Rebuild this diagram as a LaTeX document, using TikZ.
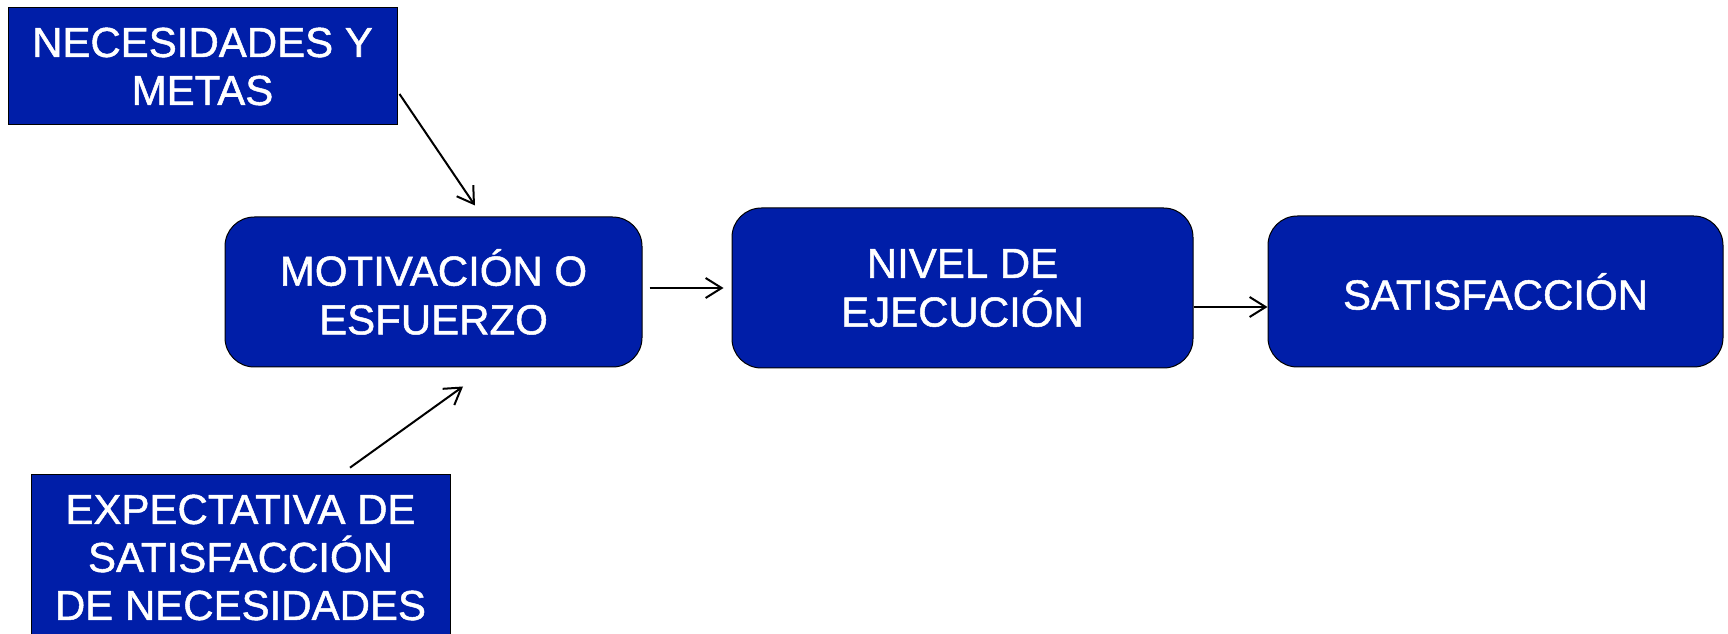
\documentclass[tikz,border=0pt]{standalone}
\usepackage{fontspec}
\setmainfont{Liberation Sans}[UprightFeatures={FakeBold=1.2}]
\usetikzlibrary{arrows.meta}
\definecolor{azulcaja}{RGB}{0,30,168}

\tikzset{every picture/.style={line width=0.75pt}}
\tikzset{
	caja/.style={draw=black, fill=azulcaja, text=white, align=center, rounded corners=22pt, inner sep=0pt, font=\fontsize{31.5}{36.5}\selectfont},
	etiqueta/.style={draw=black, fill=azulcaja, text=white, align=center, inner sep=0pt, font=\fontsize{31.5}{36}\selectfont},
	flecha/.style={line width=1.5pt, -{Straight Barb[length=12pt,width=15pt,line width=1.5pt]}}
}

\begin{document}
\begin{tikzpicture}[x=0.75pt,y=0.75pt,yscale=-1,xscale=1]
	\useasboundingbox (0,0) rectangle (1728,634);

	%Shape: Rectangle [id:necesidades]
	\node [etiqueta, minimum width=291.75pt, minimum height=87.75pt] (nec) at (202.5,66.5) {NECESIDADES Y\\METAS};
	%Shape: Rectangle [id:expectativa]
	\node [etiqueta, minimum width=314.25pt, minimum height=125pt] (exp) at (240.5,557.5) {EXPECTATIVA DE\\SATISFACCIÓN\\DE NECESIDADES};
	%Shape: Rounded Rect [id:motivacion]
	\node [caja, minimum width=312.75pt, minimum height=112.5pt] (mot) at (433.5,292) {MOTIVACIÓN O\\ESFUERZO};
	%Shape: Rounded Rect [id:nivel]
	\node [caja, minimum width=345.75pt, minimum height=120pt] (niv) at (962.5,288) {NIVEL DE\\EJECUCIÓN};
	%Shape: Rounded Rect [id:satisfaccion]
	\node [caja, minimum width=341.25pt, minimum height=113.25pt] (sat) at (1495.5,291.5) {SATISFACCIÓN};

	%Straight Lines [id:nec-mot]
	\draw [flecha] ([shift={(2,27.5)}]nec.east) -- ([shift={(41.5,-11)}]mot.north) ;
	%Straight Lines [id:exp-mot]
	\draw [flecha] ([shift={(109.5,-6)}]exp.north) -- ([shift={(29.5,19)}]mot.south) ;
	%Straight Lines [id:mot-niv]
	\draw [flecha] ([shift={(7,-4)}]mot.east) -- ([shift={(-8,0)}]niv.west) ;
	%Straight Lines [id:niv-sat]
	\draw [flecha] ([shift={(0,19)}]niv.east) -- ([shift={(0,15.5)}]sat.west) ;
\end{tikzpicture}
\end{document}
